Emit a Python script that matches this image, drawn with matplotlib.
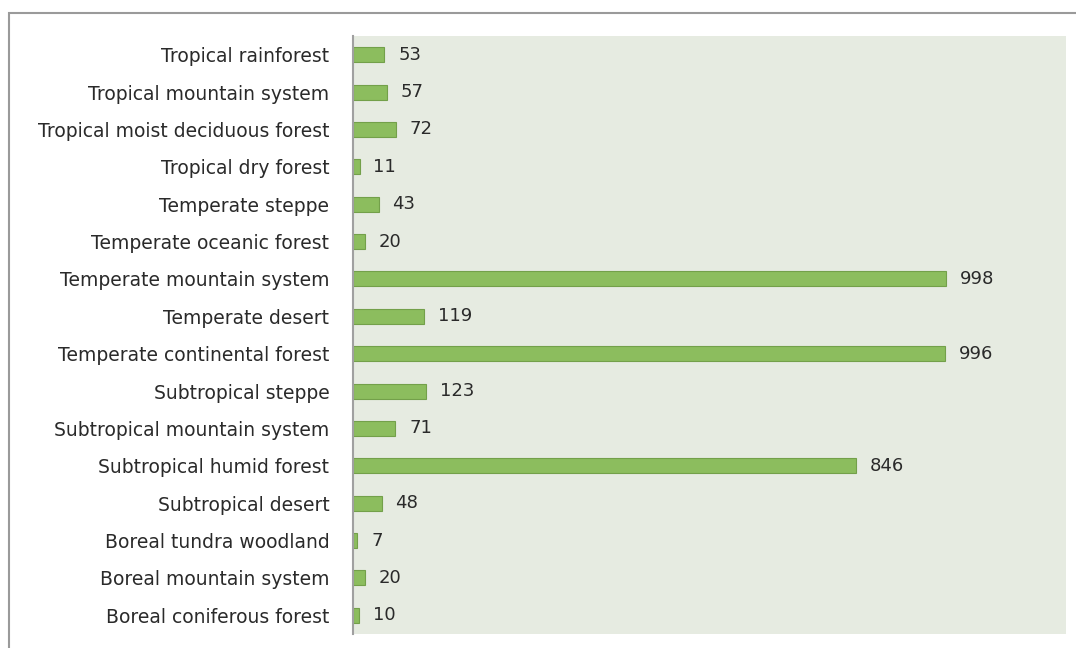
import matplotlib.pyplot as plt
from matplotlib.patches import Rectangle

categories = ["Tropical rainforest", "Tropical mountain system",
              "Tropical moist deciduous forest", "Tropical dry forest",
              "Temperate steppe", "Temperate oceanic forest",
              "Temperate mountain system", "Temperate desert",
              "Temperate continental forest", "Subtropical steppe",
              "Subtropical mountain system", "Subtropical humid forest",
              "Subtropical desert", "Boreal tundra woodland",
              "Boreal mountain system", "Boreal coniferous forest"]
values = [53, 57, 72, 11, 43, 20, 998, 119, 996, 123, 71, 846, 48, 7, 20, 10]

plt.rcParams['font.family'] = ['DejaVu Sans']

fig = plt.figure(figsize=(10.76, 6.48), dpi=100)
# outer chart border
fig.patches.append(Rectangle((9/1076, -0.01), 1.02, (648-13)/648 + 0.01,
                             transform=fig.transFigure, fill=False,
                             edgecolor='#9a9a9a', linewidth=1.5))
ax = fig.add_axes([353/1076, 1 - 634/648, (1066-353)/1076, (634-36)/648])
ax.set_facecolor('#e6ebe1')

y = list(range(len(categories)))
ax.barh(y, values, height=0.4, color='#8cbd5e', edgecolor='#73a04a', linewidth=0.8)
for yi, v in zip(y, values):
    ax.annotate(str(v), (v, yi), xytext=(10, 0), textcoords='offset points',
                va='center', ha='left', fontsize=13, color='#2a2a2a')

ax.set_xlim(0, 1200)
ax.set_ylim(len(categories) - 0.5, -0.5)
ax.set_yticks(y)
ax.set_yticklabels(categories, fontsize=13.5, color='#2a2a2a')
ax.set_xticks([])
ax.tick_params(axis='y', length=0, pad=17)
for s in ['top', 'right', 'bottom']:
    ax.spines[s].set_visible(False)
ax.spines['left'].set_color('#a0a0a0')
ax.spines['left'].set_linewidth(1.5)

fig.savefig('out.png', dpi=100)
